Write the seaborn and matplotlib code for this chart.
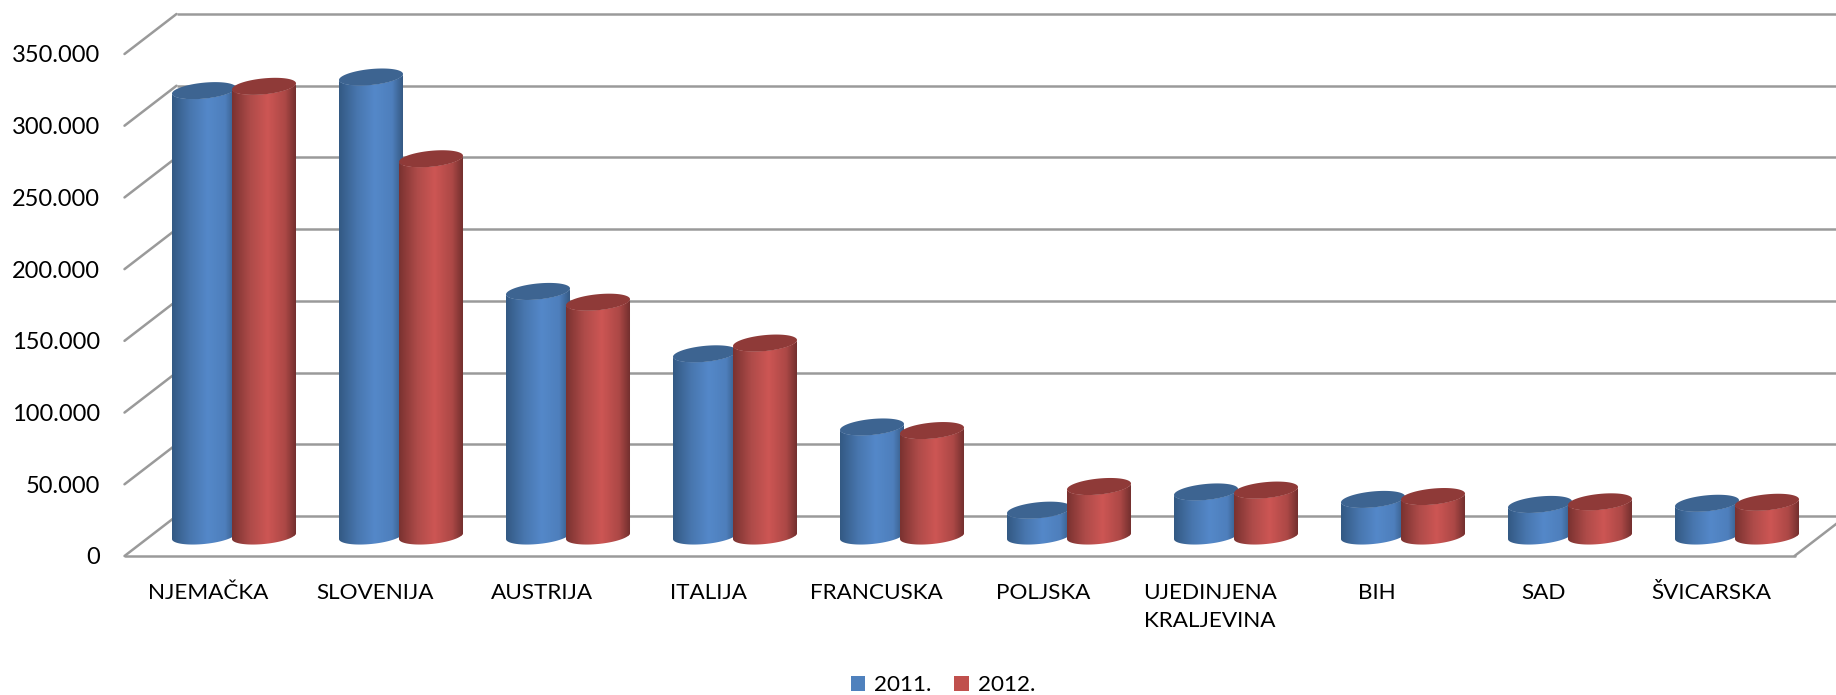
import matplotlib
matplotlib.use("Agg")
import matplotlib.pyplot as plt
from matplotlib.colors import LinearSegmentedColormap
from matplotlib.patches import Patch
from matplotlib.path import Path
import numpy as np
import pandas as pd
import seaborn as sns

countries = ["NJEMAČKA", "SLOVENIJA", "AUSTRIJA", "ITALIJA", "FRANCUSKA", "POLJSKA",
             "UJEDINJENA\nKRALJEVINA", "BIH", "SAD", "ŠVICARSKA"]
years = ["2011.", "2012."]
values_2011 = [310500, 320000, 170500, 127000, 76000, 18000, 30700, 25500, 22000, 22800]
values_2012 = [313500, 263000, 163000, 134500, 73500, 34500, 32000, 27500, 23800, 23500]
y_ticks = [0, 50000, 100000, 150000, 200000, 250000, 300000, 350000]
y_labels = ["0", "50.000", "100.000", "150.000", "200.000", "250.000", "300.000", "350.000"]

colors = {"2011.": "#4F81BD", "2012.": "#C0504D"}
top_colors = {"2011.": "#3D6491", "2012.": "#8F3A38"}
shades = {
    "2011.": ["#335983", "#4876AE", "#5488C9", "#4E7FBC", "#33567E"],
    "2012.": ["#7A3230", "#AE4B49", "#CD5654", "#AC4846", "#6E2D2C"],
}
grid_color = "#9A9A9A"

W, H = 1836, 695
px_per_value = 502 / 350000
group_px = 167
depth_x, depth_y = 52, 40

sns.set_theme(style="white")
plt.rcParams["font.family"] = ["Lato", "DejaVu Sans"]
plt.rcParams["text.color"] = "black"

data = pd.DataFrame({
    "country": countries * 2,
    "year": [years[0]] * 10 + [years[1]] * 10,
    "value": values_2011 + values_2012,
})

fig = plt.figure(figsize=(W / 100, H / 100), dpi=100, facecolor="white")


# one axes per depth plane, same scale, shifted by the 3d offset
def plane_limits(x0, y0):
    xlim = ((0 - x0) / group_px, (W - x0) / group_px)
    ylim = ((y0 - H) / px_per_value, y0 / px_per_value)
    return xlim, ylim


ax_back = fig.add_axes([0, 0, 1, 1], zorder=1)
xlim, ylim = plane_limits(208 + depth_x, 556 - depth_y)
ax_back.set_xlim(*xlim)
ax_back.set_ylim(*ylim)
ax_back.axis("off")
ax_back.hlines(y_ticks, -0.5, 20, color=grid_color, lw=1.8)

ax_front = fig.add_axes([124.5 / W, 1 - 556 / H, 1670 / W, 502 / H], zorder=2)
ax_front.patch.set_alpha(0)
ax_front.set_xlim(-0.5, 9.5)
ax_front.set_ylim(0, 350000)
ax_front.set_xticks(range(len(countries)), countries)
ax_front.set_yticks(y_ticks, y_labels)
ax_front.tick_params(axis="x", length=0, pad=19.2, labelsize=16.2, labelcolor="black")
ax_front.tick_params(axis="y", length=0, pad=17.5, labelsize=17, labelcolor="black")
for label in ax_front.get_xticklabels():
    label.set_verticalalignment("top")
    label.set_linespacing(1.55)
sns.despine(ax=ax_front, left=True, bottom=True)
dx = depth_x / group_px
dy = depth_y / px_per_value
for v in y_ticks:
    ax_front.plot([-0.5, -0.5 + dx], [v, v + dy], color=grid_color, lw=1.8, clip_on=False)
ax_front.plot([-0.5, 9.5], [0, 0], color=grid_color, lw=1.8, clip_on=False)
ax_front.plot([9.5, 9.5 + dx], [0, dy], color=grid_color, lw=1.8, clip_on=False)

# bars sit half way into the depth
ax_mid = fig.add_axes([0, 0, 1, 1], zorder=3)
ax_mid.patch.set_alpha(0)
sns.barplot(data=data, x="country", y="value", hue="year", hue_order=years, palette=colors,
            order=countries, width=0.7186, gap=-0.0667, saturation=1, errorbar=None,
            legend=False, ax=ax_mid)
xlim, ylim = plane_limits(208 + depth_x / 2, 556 - depth_y / 2)
ax_mid.set_xlim(*xlim)
ax_mid.set_ylim(*ylim)
ax_mid.axis("off")

bars = [p for p in ax_mid.patches if p.get_height() > 0]
bar_years = [years[0]] * 10 + [years[1]] * 10
tilt = 3 / px_per_value
minor = 8 / px_per_value
upper = np.linspace(0, np.pi, 60)
lower = np.linspace(np.pi, 2 * np.pi, 60)

for n, (bar, year) in enumerate(zip(bars, bar_years)):
    x0, w, h = bar.get_x(), bar.get_width(), bar.get_height()
    xc = x0 + w / 2
    z = 5 if year == years[0] else 6

    def ell(t, vc):
        return xc + w / 2 * np.cos(t), vc + tilt * np.cos(t) + minor * np.sin(t)

    # side of the cylinder: front of top rim, down, front of bottom rim
    tx, ty = ell(lower, h)
    bx, by = ell(lower[::-1], 0)
    side = Path(np.r_[np.c_[tx, ty], np.c_[bx, by], [[tx[0], ty[0]]]])
    bar.set_zorder(z)
    bar.set_edgecolor("none")
    bar.set_clip_path(side, ax_mid.transData)

    cmap = LinearSegmentedColormap.from_list(year, list(zip([0, 0.28, 0.55, 0.82, 1], shades[year])))
    im = ax_mid.imshow(np.linspace(0, 1, 256)[None, :], cmap=cmap, aspect="auto", zorder=z,
                       extent=[x0, x0 + w, -2 * minor - tilt, h + tilt + minor],
                       interpolation="bilinear")
    im.set_clip_path(side, ax_mid.transData)

    ex, ey = ell(np.r_[upper, lower], h)
    ax_mid.fill(ex, ey, color=top_colors[year], lw=0, zorder=z)

ax_mid.set_xlim(*xlim)
ax_mid.set_ylim(*ylim)

handles = [Patch(color=colors[y], label=y, lw=0) for y in years]
fig.legend(handles=handles, loc="center", bbox_to_anchor=(943 / W, 1 - 685 / H), ncol=2,
           frameon=False, fontsize=16.2, handlelength=0.66, handleheight=0.66,
           handletextpad=0.4, columnspacing=1.0, borderpad=0)

fig.savefig("out.png", dpi=100)
